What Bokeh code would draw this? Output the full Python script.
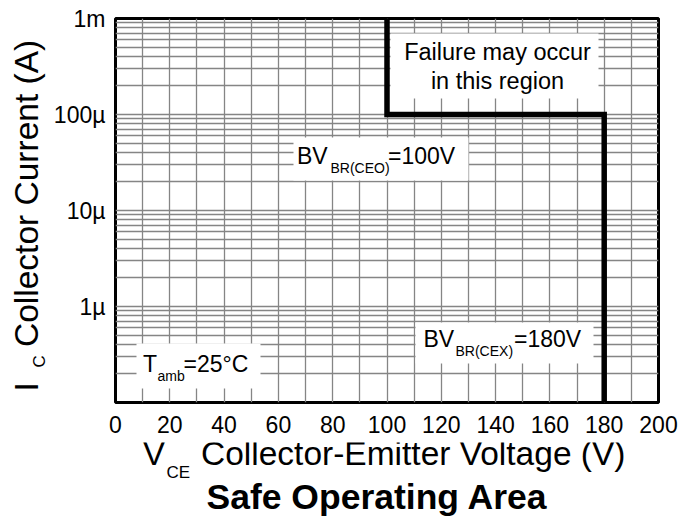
import math
from bokeh.plotting import figure
from bokeh.layouts import gridplot
from bokeh.models import FixedTicker, CustomJSTickFormatter, Label, BoxAnnotation, Range1d
from bokeh.embed import file_html
from bokeh.resources import INLINE

# ---- data ----
boundary_v = [100, 100, 180, 180]            # V_CE (V)
boundary_i = [1e-3, 1e-4, 1e-4, 1e-7]        # I_C (A)
xtick_vals = [0, 20, 40, 60, 80, 100, 120, 140, 160, 180, 200]
ytick_vals = [1e-6, 1e-5, 1e-4, 1e-3]
ytick_labels = ["1µ", "10µ", "100µ", "1m"]
x_min, x_max = 0, 200
y_min, y_max = 1e-7, 1e-3

FONT = "Liberation Sans"
BASE = 0.3   # baseline correction (fraction of font size)

# ---- layout geometry (page pixels) ----
LEFT_W = 50                 # strip holding the y-axis title
FL, FT = 112, 18            # frame left / top on the page
FW, FH = 543, 384           # frame size
MAIN_BOTTOM = 40
MAIN_RIGHT = 26
MAIN_H = FT + FH + MAIN_BOTTOM
BOT_H = 74

p = figure(frame_width=FW, frame_height=FH,
           x_range=(x_min, x_max), y_range=(y_min, y_max), y_axis_type="log",
           output_backend="svg", toolbar_location=None,
           min_border_left=FL - LEFT_W, min_border_top=FT,
           min_border_right=MAIN_RIGHT, min_border_bottom=MAIN_BOTTOM)
p.background_fill_color = "white"
p.border_fill_color = "white"
p.outline_line_color = "black"
p.outline_line_width = 3

# helpers: page pixel -> data of the main plot
def dx(px):
    return x_min + (px - FL) / FW * (x_max - x_min)

def dy(py):
    lo, hi = math.log10(y_min), math.log10(y_max)
    return 10 ** (hi - (py - FT) / FH * (hi - lo))

# grid
p.xgrid.ticker = FixedTicker(ticks=list(range(x_min, x_max + 1, 10)))
p.ygrid.ticker = FixedTicker(ticks=[m * 10.0 ** e for e in range(-7, -3) for m in range(1, 10)] + [1e-3])
for g in (p.xgrid, p.ygrid):
    g.grid_line_color = "#858585"
    g.grid_line_width = 1.3
    g.grid_line_alpha = 1.0

# axes
p.xaxis.ticker = FixedTicker(ticks=xtick_vals)
p.yaxis.ticker = FixedTicker(ticks=ytick_vals)
p.yaxis.formatter = CustomJSTickFormatter(args=dict(vals=ytick_vals, labels=ytick_labels), code="""
const i = vals.findIndex(v => Math.abs(Math.log10(v) - Math.log10(tick)) < 1e-6);
return i >= 0 ? labels[i] : "";
""")
for ax in (p.xaxis, p.yaxis):
    ax.axis_line_color = None
    ax.major_tick_line_color = None
    ax.minor_tick_line_color = None
    ax.major_tick_out = 0
    ax.minor_tick_out = 0
    ax.major_tick_in = 0
    ax.minor_tick_in = 0
    ax.major_label_text_font = FONT
    ax.major_label_text_font_size = "23px"
    ax.major_label_text_color = "black"
p.xaxis.major_label_standoff = 13
p.yaxis.major_label_standoff = 10

# white boxes behind annotations
boxes = [(387, 595, 33, 98), (290, 465, 137, 180), (412, 590, 322, 363), (133, 257, 343, 388)]
for l, r, t, b in boxes:
    p.add_layout(BoxAnnotation(left=dx(l), right=dx(r), top=dy(t), bottom=dy(b),
                               fill_color="white", fill_alpha=1.0, line_color=None,
                               level="underlay"))

# boundary line
p.line(boundary_v, boundary_i, line_color="black", line_width=5.5, line_join="miter")


def lab(fig, text, x, y, size, align="left", bold=False, angle=0.0):
    fig.add_layout(Label(x=x, y=y, text=text, text_font=FONT,
                         text_font_size=f"{size}px", text_color="black",
                         text_align=align, text_baseline="alphabetic",
                         text_font_style="bold" if bold else "normal", angle=angle))

def mlab(text, px, py, size, **kw):
    lab(p, text, dx(px), dy(py - BASE * size), size, **kw)

# annotations inside the plot (page px, baseline)
mlab("Failure may occur", 494, 59, 23.5, align="center")
mlab("in this region", 494, 88, 23.5, align="center")
mlab("BV", 293.5, 162.5, 23)
mlab("BR(CEO)", 327, 172, 14)
mlab("=100V", 384.5, 162.5, 23)
mlab("BV", 420, 345.7, 23)
mlab("BR(CEX)", 452, 355, 14)
mlab("=180V", 510.5, 345.7, 23)
mlab("T", 139.5, 370, 23)
mlab("amb", 154, 380, 14)
mlab("=25°C", 180, 370, 23)


def blank_fig(fw, fh, x0, x1, y_top, y_bottom, bl, br, bt, bb):
    f = figure(frame_width=fw, frame_height=fh,
               x_range=Range1d(x0, x1), y_range=Range1d(y_bottom, y_top),
               output_backend="svg", toolbar_location=None,
               x_axis_location=None, y_axis_location=None,
               min_border=0, min_border_left=bl, min_border_right=br,
               min_border_top=bt, min_border_bottom=bb)
    f.outline_line_color = None
    f.grid.visible = False
    f.background_fill_color = "white"
    f.border_fill_color = "white"
    return f

# strip on the left with the y-axis title; frame rows match the main frame
left = blank_fig(LEFT_W, FH, 0, LEFT_W, FT, FT + FH, 0, 0, FT, MAIN_BOTTOM)

def llab(text, px, py, size):
    lab(left, text, px - BASE * size, py, size, angle=math.pi / 2)

llab("I", 36, 391, 33.5)
llab("C", 44, 367, 17)
llab("Collector Current (A)", 36, 346.5, 33.5)

# strip below with x-axis title and chart title; frame columns match the main frame
bottom = blank_fig(FW, BOT_H, FL, FL + FW, MAIN_H, MAIN_H + BOT_H, FL - LEFT_W, MAIN_RIGHT, 0, 0)

def blab(text, px, py, size, **kw):
    lab(bottom, text, px, py - BASE * size, size, **kw)

blab("V", 139.5, 463.3, 33)
blab("CE", 163, 476.7, 17)
blab("Collector-Emitter Voltage (V)", 197.5, 463.3, 33.5)
blab("Safe Operating Area", 203, 507.3, 35.5, bold=True)

grid = gridplot([[left, p], [None, bottom]], toolbar_location=None, merge_tools=False)

open("out.html", "w").write(file_html(grid, INLINE))
